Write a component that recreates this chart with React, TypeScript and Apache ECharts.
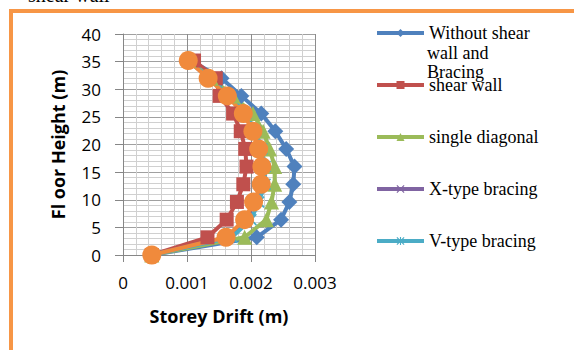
import React, { useEffect, useRef } from "react";
import * as echarts from "echarts";

const floorHeights = [0, 3.2, 6.4, 9.6, 12.8, 16, 19.2, 22.4, 25.6, 28.8, 32, 35.2];

const withoutShearWall = [0.00045, 0.00209, 0.00247, 0.0026, 0.00266, 0.00268, 0.00255, 0.00238, 0.00216, 0.00185, 0.00154, 0.00106];
const shearWall = [0.00045, 0.00132, 0.00162, 0.00178, 0.00188, 0.00193, 0.00191, 0.00184, 0.00172, 0.00151, 0.00145, 0.00111];
const singleDiagonal = [0.00045, 0.0019, 0.00224, 0.00232, 0.00237, 0.00237, 0.00229, 0.00219, 0.00203, 0.00172, 0.00138, 0.00103];
const xTypeBracing = [0.00045, 0.00163, 0.00192, 0.00206, 0.00217, 0.00218, 0.00213, 0.00204, 0.00189, 0.00164, 0.00134, 0.00102];
const vTypeBracing = [0.00045, 0.0017, 0.002, 0.00212, 0.00222, 0.00222, 0.00217, 0.00207, 0.00192, 0.00166, 0.00135, 0.00103];
const otherBracing = [0.00045, 0.00161, 0.0019, 0.00204, 0.00216, 0.00217, 0.00212, 0.00203, 0.00188, 0.00163, 0.00133, 0.00102];

const seriesNames = [
  "Without shear wall and Bracing",
  "shear wall",
  "single diagonal",
  "X-type bracing",
  "V-type bracing",
];
const firstLegendLines = ["Without shear", "wall and", "Bracing"];

const xTicks = [0, 0.001, 0.002, 0.003];

const X_SYMBOL = "path://M0,1L1,0L5,4L9,0L10,1L6,5L10,9L9,10L5,6L1,10L0,9L4,5Z";
const STAR_SYMBOL = "path://M0,1L1,0L5,4L9,0L10,1L6,5L10,9L9,10L5,6L1,10L0,9L4,5Z M4.3,0L5.7,0L5.7,10L4.3,10Z";

function pairs(xs: number[]) {
  return xs.map((x, i) => [x, floorHeights[i]]);
}

export default function App() {
  const ref = useRef<HTMLDivElement>(null);
  useEffect(() => {
    if (!ref.current) return;
    const chart = echarts.init(ref.current, undefined, { renderer: "svg" });
    const sansTick = { fontFamily: "Open Sans", fontSize: 17, color: "#000" };
    const mk = (name: string, data: number[], color: string, symbol: string, size: number) => ({
      type: "line",
      name,
      data: pairs(data),
      symbol,
      symbolSize: size,
      showSymbol: true,
      lineStyle: { color, width: 4 },
      itemStyle: { color },
    });
    const legendFont = "18px 'Liberation Serif'";
    chart.setOption({
      animation: false,
      backgroundColor: "#fff",
      grid: { left: 123, top: 34, width: 192, height: 221 },
      xAxis: {
        type: "value",
        min: 0,
        max: 0.003,
        interval: 0.001,
        axisLine: { show: true, lineStyle: { color: "#868686", width: 1 } },
        axisTick: { show: true, inside: false, length: 7, lineStyle: { color: "#868686" } },
        axisLabel: {
          ...sansTick,
          margin: 19,
          formatter: (v: number) => {
            const t = xTicks.find((k) => Math.abs(k - v) < 1e-9);
            return t === 0 ? "0" : t !== undefined ? t.toFixed(3) : "";
          },
        },
        splitLine: { show: true, lineStyle: { color: "#8c8c8c", width: 1 } },
        minorTick: { show: false, splitNumber: 5 },
        minorSplitLine: { show: true, lineStyle: { color: "#d0d0d0", width: 1 } },
        name: "Storey Drift (m)",
        nameLocation: "middle",
        nameGap: 52,
        nameTextStyle: { fontFamily: "Open Sans", fontWeight: "bold", fontSize: 18, color: "#000" },
      },
      yAxis: {
        type: "value",
        min: 0,
        max: 40,
        interval: 5,
        axisLine: { show: true, lineStyle: { color: "#868686", width: 1 } },
        axisTick: { show: true, inside: false, length: 8, lineStyle: { color: "#868686" } },
        axisLabel: { ...sansTick, margin: 22 },
        splitLine: { show: true, lineStyle: { color: "#a0a0a0", width: 1 } },
        minorTick: { show: false, splitNumber: 5 },
        minorSplitLine: { show: true, lineStyle: { color: "#d0d0d0", width: 1 } },
        name: "Fl oor Height (m)",
        nameLocation: "middle",
        nameGap: 56,
        nameTextStyle: { fontFamily: "Open Sans", fontWeight: "bold", fontSize: 18, color: "#000" },
      },
      legend: {
        orient: "vertical",
        left: 375,
        top: 23,
        padding: 0,
        itemWidth: 47,
        itemHeight: 10,
        itemGap: 32,
        lineStyle: { width: 4 },
        textStyle: { fontFamily: "Liberation Serif", fontSize: 18, color: "#000", lineHeight: 20 },
        formatter: (name: string) => (name === seriesNames[0] ? firstLegendLines[0] : name),
        data: seriesNames,
      },
      graphic: [
        {
          type: "rect",
          shape: { x: 11, y: 11, width: 620, height: 400 },
          style: { fill: "none", stroke: "#F79646", lineWidth: 4 },
          silent: true,
        },
        {
          type: "text",
          left: 28,
          top: -15,
          style: { text: "shear wall", font: "20px 'Liberation Serif'", fill: "#000" },
          silent: true,
        },
        {
          type: "text",
          x: 427,
          y: 53,
          style: { text: firstLegendLines[1], font: legendFont, fill: "#000", verticalAlign: "middle" },
          silent: true,
        },
        {
          type: "text",
          x: 427,
          y: 72,
          style: { text: firstLegendLines[2], font: legendFont, fill: "#000", verticalAlign: "middle" },
          silent: true,
        },
      ],
      series: [
        mk(seriesNames[0], withoutShearWall, "#4F81BD", "diamond", 16),
        mk(seriesNames[1], shearWall, "#C0504D", "rect", 14),
        mk(seriesNames[2], singleDiagonal, "#9BBB59", "triangle", 15),
        mk(seriesNames[3], xTypeBracing, "#8064A2", X_SYMBOL, 12),
        mk(seriesNames[4], vTypeBracing, "#4BACC6", STAR_SYMBOL, 12),
        mk("other bracing", otherBracing, "#F08A3C", "circle", 19),
      ],
    });
    return () => chart.dispose();
  }, []);
  return (
    <div
      ref={ref}
      style={{ position: "fixed", left: 0, top: 0, width: 574, height: 350, background: "#fff" }}
    />
  );
}
